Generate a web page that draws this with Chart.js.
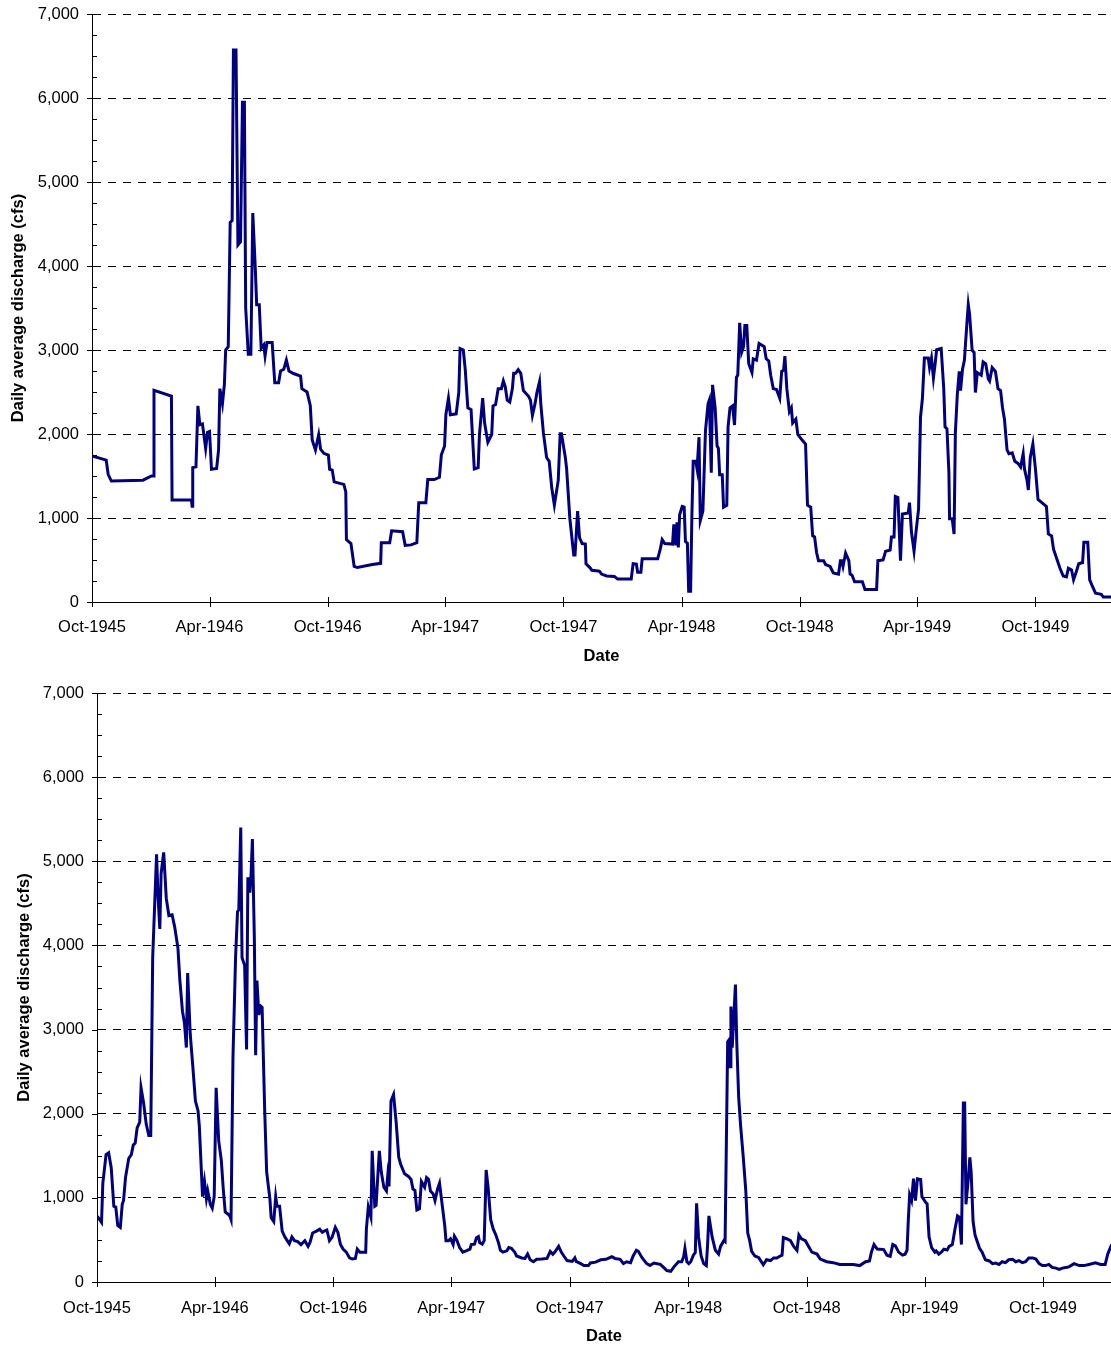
<!DOCTYPE html>
<html>
<head>
<meta charset="utf-8">
<title>Daily average discharge</title>
<script src="https://cdn.jsdelivr.net/npm/chart.js@4.4.1/dist/chart.umd.min.js"></script>
<style>
  html, body { margin: 0; padding: 0; background: #fff; }
  body { width: 1111px; height: 1346px; position: relative; overflow: hidden; }
  canvas { position: absolute; left: 0; }
  #chart-top { top: 0; }
  #chart-bottom { top: 680px; }
</style>
</head>
<body>
<canvas id="chart-top" width="1111" height="666"></canvas>
<canvas id="chart-bottom" width="1111" height="666"></canvas>
<script>
// x values are days counted from 1 Oct 1945
const tickDays = [0, 182, 365, 547, 730, 913, 1096, 1278, 1461];
const tickLabels = ["Oct-1945", "Apr-1946", "Oct-1946", "Apr-1947", "Oct-1947",
                    "Apr-1948", "Oct-1948", "Apr-1949", "Oct-1949"];

// upper chart
const topDays = [
    0, 22, 25, 30, 79, 92, 95, 96, 123, 124,
    154, 155, 156, 161, 164, 167, 171, 174, 176, 179,
    182, 185, 193, 196, 198, 202, 205, 207, 211, 214,
    217, 219, 223, 226, 230, 233, 236, 238, 242, 246,
    249, 253, 255, 259, 262, 266, 268, 271, 279, 283,
    289, 292, 297, 301, 305, 312, 323, 325, 333, 338,
    341, 346, 351, 354, 359, 366, 368, 372, 375, 390,
    393, 394, 401, 406, 411, 434, 447, 448, 461, 464,
    481, 485, 494, 503, 506, 517, 520, 530, 538, 541,
    546, 548, 552, 555, 564, 568, 570, 575, 578, 582,
    587, 592, 598, 600, 605, 608, 613, 619, 621, 625,
    629, 634, 637, 640, 643, 647, 651, 653, 656, 660,
    664, 668, 676, 679, 682, 686, 689, 693, 695, 699,
    704, 708, 712, 716, 722, 725, 727, 733, 735, 740,
    746, 748, 752, 755, 759, 764, 765, 771, 774, 784,
    786, 789, 797, 809, 814, 835, 838, 843, 845, 850,
    852, 876, 880, 883, 887, 899, 901, 904, 906, 908,
    910, 914, 917, 919, 922, 924, 927, 929, 931, 935,
    937, 940, 942, 946, 950, 954, 956, 959, 961, 965,
    968, 970, 972, 976, 978, 983, 985, 988, 992, 995,
    998, 1000, 1003, 1006, 1009, 1011, 1014, 1017, 1022, 1024,
    1029, 1033, 1041, 1044, 1048, 1051, 1055, 1060, 1065, 1068,
    1071, 1073, 1076, 1080, 1083, 1085, 1090, 1093, 1100, 1105,
    1108, 1113, 1116, 1119, 1122, 1125, 1133, 1136, 1143, 1148,
    1156, 1159, 1161, 1163, 1167, 1172, 1174, 1177, 1181, 1193,
    1197, 1215, 1217, 1225, 1229, 1236, 1238, 1242, 1244, 1248,
    1252, 1255, 1264, 1266, 1269, 1273, 1276, 1280, 1283, 1286,
    1289, 1295, 1297, 1300, 1303, 1306, 1308, 1315, 1319, 1321,
    1324, 1327, 1328, 1332, 1335, 1337, 1340, 1343, 1345, 1348,
    1351, 1355, 1357, 1359, 1363, 1366, 1368, 1371, 1377, 1380,
    1384, 1388, 1390, 1394, 1399, 1403, 1407, 1410, 1413, 1417,
    1420, 1425, 1429, 1434, 1438, 1442, 1444, 1448, 1450, 1453,
    1457, 1461, 1465, 1470, 1478, 1481, 1486, 1489, 1494, 1499,
    1504, 1509, 1512, 1517, 1520, 1524, 1528, 1534, 1536, 1542,
    1545, 1550, 1554, 1563, 1566, 1578
];
const topCfs = [
    1740, 1690, 1520, 1440, 1450, 1500, 1500, 2520, 2450, 1215,
    1215, 1140, 1600, 1610, 2335, 2110, 2120, 1950, 1830, 2020,
    2030, 1580, 1590, 1810, 2540, 2360, 2590, 3000, 3040, 4520,
    4540, 6570, 6570, 4250, 4290, 5950, 5950, 3500, 2950, 2950,
    4630, 3950, 3540, 3540, 3020, 3060, 2930, 3090, 3090, 2610,
    2610, 2750, 2770, 2880, 2750, 2720, 2690, 2540, 2500, 2340,
    1930, 1810, 1990, 1820, 1770, 1750, 1580, 1570, 1430, 1400,
    1310, 742, 696, 423, 410, 446, 460, 705, 705, 847,
    837, 674, 680, 705, 1183, 1183, 1457, 1457, 1484, 1752,
    1857, 2230, 2426, 2230, 2240, 2494, 3018, 3000, 2767, 2312,
    2290, 1584, 1600, 1994, 2426, 2130, 1903, 1994, 2335, 2350,
    2540, 2540, 2631, 2560, 2403, 2380, 2540, 2722, 2722, 2767,
    2722, 2517, 2449, 2403, 2221, 2358, 2494, 2622, 2358, 2016,
    1720, 1675, 1356, 1152, 1447, 2003, 2003, 1720, 1584, 992,
    560, 560, 1083, 765, 696, 690, 455, 410, 378, 369,
    365, 332, 310, 305, 273, 273, 455, 450, 355, 355,
    514, 514, 628, 742, 696, 690, 924, 674, 947, 651,
    1038, 1138, 1130, 719, 700, 127, 127, 1038, 1675, 1675,
    1584, 1962, 970, 1083, 2039, 2358, 2403, 1538, 2585, 2312,
    1857, 1830, 1516, 1516, 1129, 1150, 2085, 2312, 2335, 2107,
    2676, 2700, 3323, 2972, 3040, 3291, 3291, 2836, 2731, 2895,
    2880, 3077, 3040, 2895, 2870, 2699, 2540, 2530, 2426, 2745,
    2760, 2927, 2540, 2267, 2312, 2130, 2176, 1994, 1925, 1880,
    1152, 1130, 787, 774, 592, 492, 492, 446, 423, 346,
    332, 492, 492, 423, 583, 492, 332, 319, 241, 241,
    150, 150, 492, 500, 605, 618, 774, 774, 1256, 1243,
    492, 1047, 1061, 1183, 833, 605, 833, 1106, 2198, 2426,
    2904, 2904, 2790, 2904, 2667, 2858, 3004, 3018, 2540, 2085,
    2060, 1538, 992, 992, 810, 2016, 2471, 2745, 2517, 2767,
    2881, 3336, 3541, 3427, 2995, 2972, 2494, 2731, 2700, 2858,
    2836, 2654, 2630, 2790, 2745, 2540, 2517, 2312, 2176, 1811,
    1766, 1775, 1675, 1650, 1607, 1766, 1584, 1448, 1334, 1720,
    1880, 1584, 1220, 1190, 1138, 810, 787, 628, 514, 401,
    310, 300, 401, 380, 264, 355, 455, 470, 710, 710,
    264, 173, 105, 91, 59, 59
];

// lower chart
const bottomDays = [
    0, 2, 7, 9, 14, 18, 22, 26, 29, 32,
    36, 39, 41, 44, 49, 53, 56, 59, 62, 66,
    68, 72, 76, 80, 83, 86, 92, 94, 97, 99,
    103, 107, 111, 116, 120, 125, 128, 132, 135, 138,
    140, 144, 148, 152, 156, 158, 163, 166, 169, 171,
    175, 178, 181, 184, 188, 192, 195, 198, 202, 205,
    207, 210, 214, 217, 219, 222, 224, 228, 231, 233,
    236, 238, 240, 243, 245, 247, 250, 252, 255, 259,
    262, 267, 269, 273, 276, 278, 282, 286, 290, 293,
    297, 301, 305, 310, 315, 321, 326, 329, 333, 339,
    344, 348, 351, 355, 359, 363, 368, 372, 376, 380,
    385, 390, 394, 399, 402, 406, 415, 416, 419, 423,
    425, 429, 431, 436, 439, 443, 447, 449, 451, 454,
    458, 462, 466, 469, 475, 481, 485, 488, 491, 494,
    498, 501, 506, 509, 512, 515, 519, 522, 526, 529,
    533, 537, 539, 543, 546, 550, 552, 556, 560, 565,
    570, 576, 578, 583, 586, 589, 591, 595, 598, 600,
    601, 604, 608, 612, 616, 620, 623, 627, 633, 636,
    640, 645, 648, 656, 661, 665, 669, 674, 679, 687,
    695, 700, 704, 707, 713, 717, 721, 726, 734, 738,
    740, 747, 752, 759, 762, 770, 778, 786, 795, 800,
    808, 813, 818, 824, 828, 833, 836, 842, 849, 854,
    860, 865, 870, 875, 880, 886, 891, 898, 903, 906,
    908, 911, 914, 917, 921, 924, 926, 929, 933, 937,
    941, 943, 945, 950, 955, 960, 963, 968, 970, 974,
    976, 978, 979, 981, 983, 986, 988, 991, 994, 998,
    1002, 1005, 1008, 1011, 1016, 1022, 1029, 1034, 1040, 1045,
    1050, 1055, 1058, 1060, 1065, 1071, 1076, 1081, 1084, 1088,
    1094, 1099, 1104, 1112, 1117, 1127, 1137, 1147, 1158, 1168,
    1178, 1187, 1193, 1196, 1200, 1205, 1215, 1220, 1225, 1229,
    1233, 1238, 1244, 1248, 1251, 1253, 1255, 1258, 1261, 1264,
    1267, 1272, 1274, 1280, 1282, 1285, 1289, 1294, 1296, 1300,
    1304, 1308, 1313, 1316, 1321, 1325, 1329, 1332, 1335, 1338,
    1340, 1342, 1345, 1348, 1350, 1353, 1356, 1359, 1363, 1367,
    1372, 1378, 1383, 1388, 1393, 1398, 1403, 1408, 1414, 1419,
    1424, 1429, 1434, 1439, 1445, 1450, 1455, 1460, 1465, 1470,
    1475, 1481, 1486, 1491, 1496, 1501, 1509, 1517, 1524, 1532,
    1542, 1550, 1557, 1561, 1567
];
const bottomCfs = [
    780, 764, 709, 1173, 1514, 1536, 1355, 900, 890, 673,
    650, 923, 968, 1241, 1468, 1514, 1627, 1650, 1832, 1900,
    2309, 2127, 1877, 1741, 1741, 3855, 5082, 4627, 4195, 4855,
    5105, 4559, 4355, 4364, 4218, 3968, 3582, 3218, 3082, 2786,
    3673, 2945, 2559, 2150, 2036, 1855, 1014, 1195, 991, 1082,
    923, 877, 1014, 2309, 1673, 1445, 1105, 832, 809, 786,
    741, 2673, 3855, 4400, 4423, 5400, 3855, 3764, 2764, 4809,
    4627, 4855, 5264, 4082, 2695, 3582, 3173, 3286, 3264, 2036,
    1309, 991, 764, 718, 1014, 900, 900, 605, 536, 500,
    455, 536, 491, 480, 445, 491, 423, 470, 582, 605,
    627, 590, 605, 618, 491, 530, 650, 590, 445, 391,
    355, 286, 273, 280, 391, 355, 355, 627, 891, 773,
    1559, 900, 910, 1559, 1309, 1127, 1082, 1264, 1136, 2150,
    2227, 1900, 1482, 1400, 1286, 1255, 1218, 1105, 1090, 855,
    870, 1195, 1127, 1241, 1220, 1082, 1050, 968, 1105, 1173,
    923, 673, 491, 491, 514, 445, 545, 491, 409, 355,
    370, 390, 445, 450, 527, 540, 468, 450, 491, 1036,
    1332, 1127, 741, 627, 559, 468, 377, 355, 370, 409,
    400, 355, 309, 286, 280, 332, 264, 241, 270, 273,
    280, 364, 330, 355, 423, 355, 309, 255, 245, 286,
    245, 218, 195, 195, 227, 236, 264, 270, 300, 280,
    270, 218, 240, 230, 309, 377, 365, 286, 218, 195,
    225, 218, 210, 173, 136, 127, 180, 241, 241, 300,
    400, 241, 218, 241, 318, 350, 936, 536, 309, 218,
    195, 445, 786, 536, 377, 332, 423, 491, 480, 2855,
    2877, 2559, 3273, 2786, 3082, 3536, 2855, 2195, 1855, 1491,
    1082, 582, 491, 364, 309, 290, 205, 264, 255, 286,
    286, 309, 318, 527, 514, 491, 423, 377, 559, 514,
    491, 423, 355, 332, 273, 241, 230, 209, 209, 209,
    195, 241, 250, 355, 445, 391, 385, 318, 305, 445,
    430, 355, 320, 330, 377, 741, 1036, 968, 1227, 968,
    1227, 1218, 1014, 945, 930, 536, 409, 355, 370, 332,
    355, 391, 380, 423, 445, 627, 786, 770, 445, 2127,
    2127, 923, 1173, 1482, 1309, 718, 559, 491, 400, 355,
    264, 250, 218, 225, 209, 241, 230, 264, 270, 241,
    255, 230, 241, 286, 286, 273, 218, 195, 195, 209,
    173, 165, 150, 165, 173, 180, 218, 195, 195, 209,
    227, 209, 209, 332, 445
];

Chart.defaults.font.family = '"Liberation Sans", Arial, sans-serif';
Chart.defaults.font.size = 16.5;
Chart.defaults.color = '#000';

// Excel-style tick marks: y majors outside, y minors inside, x ticks crossing the axis
const tickMarks = {
    id: 'tickMarks',
    afterDraw(chart) {
        const ctx = chart.ctx;
        const x = chart.scales.x;
        const y = chart.scales.y;
        ctx.save();
        ctx.strokeStyle = '#000';
        ctx.lineWidth = 1;
        ctx.beginPath();
        for (let v = 0; v <= 7000; v += 250) {
            const py = Math.round(y.getPixelForValue(v)) + 0.5;
            if (v % 1000 === 0) {
                ctx.moveTo(y.right - 5, py);
                ctx.lineTo(y.right, py);
            } else {
                ctx.moveTo(y.right, py);
                ctx.lineTo(y.right + 5, py);
            }
        }
        tickDays.forEach(d => {
            const px = Math.round(x.getPixelForValue(d)) + 0.5;
            ctx.moveTo(px, x.top - 5);
            ctx.lineTo(px, x.top + 5);
        });
        ctx.stroke();
        ctx.restore();
    }
};

function drawChart(id, days, cfs, lastDay, axisWidth, titlePad, topPad, labelPad) {
    return new Chart(document.getElementById(id).getContext('2d'), {
        type: 'line',
        data: {
            datasets: [{
                data: days.map((d, i) => ({ x: d, y: cfs[i] })),
                borderColor: '#000080',
                borderWidth: 3,
                pointRadius: 0,
                tension: 0,
                fill: false
            }]
        },
        options: {
            responsive: false,
            animation: false,
            layout: { padding: { top: topPad, right: 0, left: 0, bottom: 0 } },
            plugins: { legend: { display: false }, tooltip: { enabled: false } },
            scales: {
                x: {
                    type: 'linear',
                    min: 0,
                    max: lastDay,
                    afterBuildTicks: scale => {
                        scale.ticks = tickDays.map(v => ({ value: v }));
                    },
                    afterFit: scale => {
                        scale.height = 64;
                        scale.paddingLeft = 0;
                        scale.paddingRight = 0;
                    },
                    ticks: {
                        autoSkip: false,
                        maxRotation: 0,
                        padding: labelPad,
                        callback: (v, i) => tickLabels[i]
                    },
                    grid: { display: false, drawTicks: false },
                    border: { display: true, color: '#000', width: 1 },
                    title: {
                        display: true,
                        text: 'Date',
                        font: { weight: 'bold' },
                        padding: { top: 0, bottom: 0 }
                    }
                },
                y: {
                    min: 0,
                    max: 7000,
                    afterFit: scale => {
                        scale.width = axisWidth;
                        scale.paddingTop = 0;
                        scale.paddingBottom = 0;
                    },
                    ticks: {
                        stepSize: 1000,
                        padding: 13,
                        callback: v => v.toLocaleString('en-US')
                    },
                    grid: { color: '#000', lineWidth: 1, drawTicks: false },
                    border: { display: true, color: '#000', width: 1, dash: [8, 7] },
                    title: {
                        display: true,
                        text: 'Daily average discharge (cfs)',
                        font: { weight: 'bold' },
                        padding: { top: titlePad, bottom: 0 }
                    }
                }
            }
        },
        plugins: [tickMarks]
    });
}

drawChart('chart-top', topDays, topCfs, 1578, 92, 9, 14, 16);
drawChart('chart-bottom', bottomDays, bottomCfs, 1566, 97, 15, 13, 17);
</script>
</body>
</html>
